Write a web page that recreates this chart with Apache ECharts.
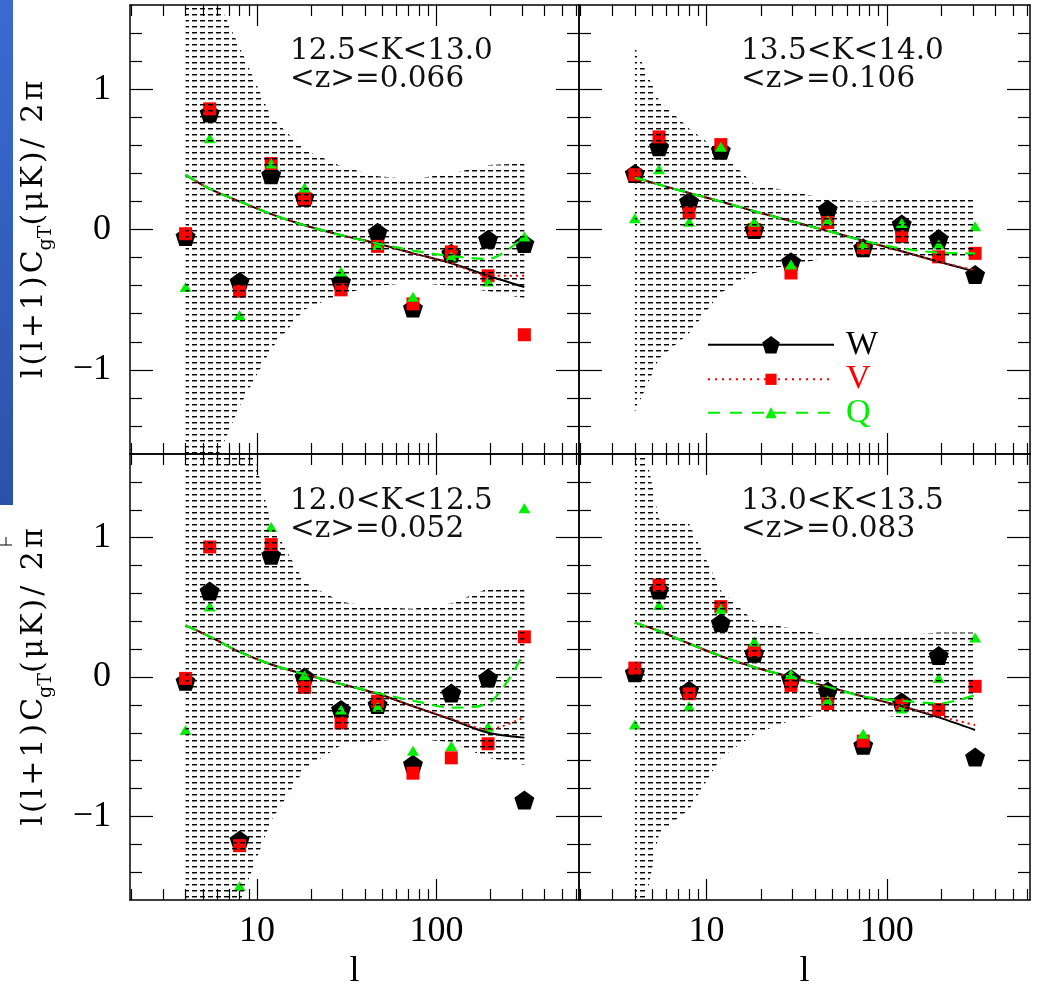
<!DOCTYPE html>
<html>
<head>
<meta charset="utf-8">
<script src="https://cdn.jsdelivr.net/npm/echarts@6/dist/echarts.min.js"></script>
<style>html,body{margin:0;padding:0;background:#fff}#c{width:1037px;height:991px}</style>
</head>
<body>
<div id="c"></div>
<script>
// multipole bins (l)
const ell = [4.0, 5.45, 8.0, 12.0, 18.4, 29.4, 47, 74, 121, 194, 309];
const xMajor = [10, 100];
const xMinor = [2, 3, 4, 5, 6, 7, 8, 9, 20, 30, 40, 50, 60, 70, 80, 90, 200, 300, 400, 500, 600];
const yMajor = [-1, 0, 1];
const yMinor = [-1.4, -1.2, -0.8, -0.6, -0.4, -0.2, 0.2, 0.4, 0.6, 0.8, 1.2, 1.4];

const panelBins = ['12.5<K<13.0', '13.5<K<14.0', '12.0<K<12.5', '13.0<K<13.5'];
const panelZ = ['<z>=0.066', '<z>=0.106', '<z>=0.052', '<z>=0.083'];

// top-left 12.5<K<13.0
const wTL = [-0.05, 0.83, -0.37, 0.39, 0.23, -0.37, -0.02, -0.56, -0.17, -0.07, -0.10];
const vTL = [-0.03, 0.86, -0.44, 0.47, 0.22, -0.43, -0.12, -0.53, -0.16, -0.33, -0.75];
const qTL = [-0.41, 0.65, -0.61, 0.47, 0.30, -0.30, -0.11, -0.48, -0.19, -0.37, -0.05];
const mwTL = [0.39, 0.29, 0.20, 0.11, 0.03, -0.04, -0.10, -0.17, -0.24, -0.33, -0.41];
const mvTL = [0.39, 0.29, 0.20, 0.11, 0.03, -0.04, -0.10, -0.17, -0.24, -0.33, -0.33];
const mqTL = [0.39, 0.29, 0.20, 0.11, 0.03, -0.04, -0.10, -0.15, -0.19, -0.21, -0.05];
const hiTL = [2.0, 1.75, 1.3, 0.8, 0.57, 0.45, 0.38, 0.36, 0.40, 0.46, 0.47];
const loTL = [-2.0, -1.75, -1.26, -0.85, -0.57, -0.46, -0.40, -0.38, -0.40, -0.44, -0.49];

// top-right 13.5<K<14.0
const wTR = [0.40, 0.59, 0.20, 0.565, 0.0, -0.23, 0.145, -0.13, 0.04, -0.065, -0.32];
const vTR = [0.39, 0.66, 0.12, 0.605, 0.0, -0.31, 0.05, -0.135, -0.05, -0.195, -0.17];
const qTR = [0.08, 0.43, 0.055, 0.59, 0.055, -0.25, 0.066, -0.107, 0.047, -0.107, 0.024];
const mwTR = [0.37, 0.32, 0.26, 0.20, 0.13, 0.06, -0.01, -0.08, -0.155, -0.23, -0.30];
const mvTR = [0.37, 0.32, 0.26, 0.20, 0.13, 0.06, -0.01, -0.08, -0.155, -0.23, -0.29];
const mqTR = [0.37, 0.32, 0.26, 0.20, 0.13, 0.06, -0.01, -0.08, -0.135, -0.165, -0.17];
const hiTR = [1.3, 0.92, 0.72, 0.55, 0.32, 0.27, 0.22, 0.20, 0.215, 0.215, 0.215];
const loTR = [-1.3, -0.92, -0.74, -0.45, -0.31, -0.25, -0.205, -0.19, -0.19, -0.19, -0.19];

// bottom-left 12.0<K<12.5
const wBL = [-0.03, 0.617, -1.17, 0.874, 0.0, -0.233, -0.198, -0.626, -0.114, -0.007, -0.883];
const vBL = [-0.01, 0.933, -1.21, 0.95, -0.074, -0.33, -0.174, -0.69, -0.58, -0.479, 0.288];
const qBL = [-0.38, 0.505, -1.50, 1.076, 0.012, -0.233, -0.214, -0.53, -0.495, -0.357, 1.21];
const mwBL = [0.37, 0.29, 0.18, 0.09, 0.02, -0.05, -0.12, -0.21, -0.305, -0.40, -0.435];
const mvBL = [0.37, 0.29, 0.18, 0.09, 0.02, -0.05, -0.12, -0.21, -0.30, -0.376, -0.288];
const mqBL = [0.37, 0.29, 0.18, 0.09, 0.02, -0.05, -0.115, -0.17, -0.22, -0.19, 0.18];
const hiBL = [2.0, 2.0, 2.0, 1.1, 0.68, 0.54, 0.50, 0.49, 0.53, 0.635, 0.645];
const loBL = [-2.0, -2.0, -1.62, -1.03, -0.66, -0.49, -0.46, -0.44, -0.47, -0.58, -0.63];

// bottom-right 13.0<K<13.5
const wBR = [0.03, 0.624, -0.095, 0.39, 0.17, -0.012, -0.10, -0.49, -0.18, 0.155, -0.574];
const vBR = [0.064, 0.66, -0.12, 0.505, 0.188, -0.06, -0.19, -0.46, -0.198, -0.233, -0.067];
const qBR = [-0.34, 0.517, -0.21, 0.49, 0.255, 0.021, -0.167, -0.407, -0.226, -0.007, 0.283];
const mwBR = [0.39, 0.33, 0.24, 0.15, 0.07, 0.0, -0.07, -0.14, -0.21, -0.29, -0.38];
const mvBR = [0.39, 0.33, 0.24, 0.15, 0.07, 0.0, -0.07, -0.14, -0.21, -0.28, -0.345];
const mqBR = [0.39, 0.33, 0.24, 0.15, 0.07, 0.0, -0.07, -0.14, -0.17, -0.19, -0.13];
const hiBR = [2.0, 1.13, 1.1, 0.62, 0.40, 0.35, 0.30, 0.28, 0.30, 0.32, 0.32];
const loBR = [-2.0, -1.12, -0.95, -0.58, -0.41, -0.31, -0.26, -0.26, -0.29, -0.30, -0.30];

const panels = [
  {W: wTL, V: vTL, Q: qTL, mW: mwTL, mV: mvTL, mQ: mqTL, hi: hiTL, lo: loTL},
  {W: wTR, V: vTR, Q: qTR, mW: mwTR, mV: mvTR, mQ: mqTR, hi: hiTR, lo: loTR},
  {W: wBL, V: vBL, Q: qBL, mW: mwBL, mV: mvBL, mQ: mqBL, hi: hiBL, lo: loBL},
  {W: wBR, V: vBR, Q: qBR, mW: mwBR, mV: mvBR, mQ: mqBR, hi: hiBR, lo: loBR}
];

const XMIN = 1.96, XMAX = 623;
const grids = [
  {left: 130, top: 5, width: 449, height: 449},
  {left: 579, top: 5, width: 451, height: 449},
  {left: 130, top: 454, width: 449, height: 451},
  {left: 579, top: 454, width: 451, height: 451}
];
const titlePos = [[290, 37], [741, 37], [290, 487], [741, 487]];

const PENT = 'path://M0,-1 L0.951,-0.309 L0.588,0.809 L-0.588,0.809 L-0.951,-0.309 Z';
const BLACK = '#000', RED = '#ff0000', GREEN = '#00f000';

function hatch() {
  const c = document.createElement('canvas');
  c.width = 8; c.height = 6;
  const x = c.getContext('2d');
  x.fillStyle = '#000'; x.fillRect(0, 2, 5, 1);
  x.fillStyle = 'rgba(0,0,0,0.45)'; x.fillRect(0, 3, 5, 1);
  return c;
}
const hatchImg = hatch();

const tickLine = {color: '#000', width: 1.2};
const frameLine = {show: true, onZero: false, lineStyle: {color: '#000', width: 1.5}};
const noLine = {show: false, onZero: false};
const labelFont = {fontFamily: 'Liberation Serif', fontSize: 36, color: '#000'};

const xAxis = [], yAxis = [];
grids.forEach((g, gi) => {
  const bottomRow = gi >= 2, leftCol = gi % 2 === 0;
  const xb = {type: 'log', logBase: 10, gridIndex: gi, min: XMIN, max: XMAX,
    splitLine: {show: false}, axisPointer: {show: false}};
  xAxis.push(Object.assign({}, xb, {position: 'bottom', axisLine: frameLine,
    axisTick: {show: true, inside: true, length: 21, customValues: xMajor, lineStyle: tickLine},
    axisLabel: Object.assign({show: bottomRow, customValues: xMajor, margin: 14,
      formatter: v => String(Math.round(v))}, labelFont),
    name: bottomRow ? 'l' : '', nameLocation: 'middle', nameGap: 54,
    nameTextStyle: labelFont}));
  xAxis.push(Object.assign({}, xb, {position: 'bottom', axisLine: noLine,
    axisTick: {show: true, inside: true, length: 11, customValues: xMinor, lineStyle: tickLine},
    axisLabel: {show: false}}));
  xAxis.push(Object.assign({}, xb, {position: 'top', axisLine: frameLine,
    axisTick: {show: true, inside: true, length: 21, customValues: xMajor, lineStyle: tickLine},
    axisLabel: {show: false}}));
  xAxis.push(Object.assign({}, xb, {position: 'top', axisLine: noLine,
    axisTick: {show: true, inside: true, length: 11, customValues: xMinor, lineStyle: tickLine},
    axisLabel: {show: false}}));

  const yb = {type: 'value', gridIndex: gi, min: -1.6, max: 1.6,
    splitLine: {show: false}, axisPointer: {show: false}};
  const HS = '\u200A';
  const m1 = ['l', '(', 'l', '+', '1', ')', 'C'].join(HS);
  const m2 = ['(', 'μ', 'K', ')', '/', ' ', '2', 'π'].join(HS);
  yAxis.push(Object.assign({}, yb, {position: 'left', axisLine: frameLine,
    axisTick: {show: true, inside: true, length: 23, customValues: yMajor, lineStyle: tickLine},
    axisLabel: Object.assign({show: leftCol, customValues: yMajor, margin: 19,
      formatter: v => (v < 0 ? '\u2212' + Math.abs(v) : String(v))}, labelFont),
    name: leftCol ? '{m|' + m1 + '}{s|gT}{m|' + m2 + '}' : '',
    nameLocation: 'middle', nameRotate: 90, nameGap: 74,
    nameTextStyle: {color: '#000', fontFamily: 'DejaVu Serif', fontSize: 30,
      rich: {
        m: {fontFamily: 'DejaVu Serif', fontSize: 30, lineHeight: 44, verticalAlign: 'middle', color: '#000'},
        s: {fontFamily: 'DejaVu Serif', fontSize: 19, lineHeight: 19, verticalAlign: 'bottom', color: '#000'}
      }}}));
  yAxis.push(Object.assign({}, yb, {position: 'left', axisLine: noLine,
    axisTick: {show: true, inside: true, length: 12, customValues: yMinor, lineStyle: tickLine},
    axisLabel: {show: false}}));
  yAxis.push(Object.assign({}, yb, {position: 'right', axisLine: frameLine,
    axisTick: {show: true, inside: true, length: 23, customValues: yMajor, lineStyle: tickLine},
    axisLabel: {show: false}}));
  yAxis.push(Object.assign({}, yb, {position: 'right', axisLine: noLine,
    axisTick: {show: true, inside: true, length: 12, customValues: yMinor, lineStyle: tickLine},
    axisLabel: {show: false}}));
});

const pairs = arr => ell.map((l, i) => [l, arr[i]]);
const series = [];
panels.forEach((p, gi) => {
  const ax = {xAxisIndex: gi * 4, yAxisIndex: gi * 4};
  // band: upper half (hi -> 0) and lower half (lo -> 0), hatched
  ['hi', 'lo'].forEach(k => {
    series.push(Object.assign({type: 'line', name: 'band-' + k + '-' + gi, data: pairs(p[k]),
      symbol: 'none', silent: true, lineStyle: {opacity: 0},
      areaStyle: {origin: 0, color: {image: hatchImg, repeat: 'repeat'}, opacity: 1}}, ax));
  });
  series.push(Object.assign({type: 'line', name: 'mW-' + gi, data: pairs(p.mW), symbol: 'none', smooth: 0.3,
    silent: true, lineStyle: {color: BLACK, width: 2}}, ax));
  series.push(Object.assign({type: 'line', name: 'mV-' + gi, data: pairs(p.mV), symbol: 'none', smooth: 0.3,
    silent: true, lineStyle: {color: RED, width: 2, type: [2, 4]}}, ax));
  series.push(Object.assign({type: 'line', name: 'mQ-' + gi, data: pairs(p.mQ), symbol: 'none', smooth: 0.3,
    silent: true, lineStyle: {color: GREEN, width: 2.2, type: [12, 8]}}, ax));
  series.push(Object.assign({type: 'scatter', name: 'pW-' + gi, data: pairs(p.W), symbol: PENT,
    symbolSize: [20, 19], itemStyle: {color: BLACK, opacity: 1}, silent: true}, ax));
  series.push(Object.assign({type: 'scatter', name: 'pV-' + gi, data: pairs(p.V), symbol: 'rect',
    symbolSize: 13, itemStyle: {color: RED, opacity: 1}, silent: true}, ax));
  series.push(Object.assign({type: 'scatter', name: 'pQ-' + gi, data: pairs(p.Q), symbol: 'triangle',
    symbolSize: [12, 10], itemStyle: {color: GREEN, opacity: 1}, silent: true}, ax));
});
// legend-only series
series.push({type: 'line', name: 'W', xAxisIndex: 4, yAxisIndex: 4, data: [], symbol: PENT,
  itemStyle: {color: BLACK}, lineStyle: {color: BLACK, width: 2}});
series.push({type: 'line', name: 'V', xAxisIndex: 4, yAxisIndex: 4, data: [], symbol: 'rect',
  itemStyle: {color: RED}, lineStyle: {color: RED, width: 2, type: [2, 5]}});
series.push({type: 'line', name: 'Q', xAxisIndex: 4, yAxisIndex: 4, data: [], symbol: 'triangle',
  itemStyle: {color: GREEN}, lineStyle: {color: GREEN, width: 2, type: [12, 10]}});

function legendFor(name, color, top, ih) {
  return {data: [name], orient: 'vertical', left: 707, top: top, padding: 0, itemGap: 0,
    itemWidth: 126, itemHeight: ih, selectedMode: false,
    textStyle: {color: color, fontFamily: 'Liberation Serif', fontSize: 34, lineHeight: 30, padding: [0, 0, 0, 7]}};
}

const title = panelBins.map((b, i) => ({
  text: b + '\n' + panelZ[i], left: titlePos[i][0], top: titlePos[i][1], padding: 0,
  textStyle: {fontFamily: 'DejaVu Serif', fontSize: 29.5, fontWeight: 'normal', color: '#111', lineHeight: 28}
}));

const option = {
  animation: false,
  backgroundColor: '#fff',
  grid: grids,
  title: title,
  legend: [legendFor('W', '#000', 327.7, 22), legendFor('V', RED, 362.3, 14), legendFor('Q', GREEN, 395.7, 14)],
  xAxis: xAxis,
  yAxis: yAxis,
  series: series,
  graphic: [
    {type: 'rect', left: 0, top: 0, shape: {width: 13, height: 505}, silent: true,
      style: {fill: {type: 'linear', x: 0, y: 0, x2: 0, y2: 1,
        colorStops: [{offset: 0, color: '#3a6ad2'}, {offset: 1, color: '#2b52a8'}]}}},
    {type: 'line', shape: {x1: 0, y1: 545, x2: 12, y2: 545}, style: {stroke: '#000', lineWidth: 1}, silent: true},
    {type: 'line', shape: {x1: 6, y1: 537, x2: 6, y2: 545}, style: {stroke: '#000', lineWidth: 1}, silent: true}
  ]
};

const chart = echarts.init(document.getElementById('c'), null, {renderer: 'canvas'});
chart.setOption(option);
</script>
</body>
</html>
